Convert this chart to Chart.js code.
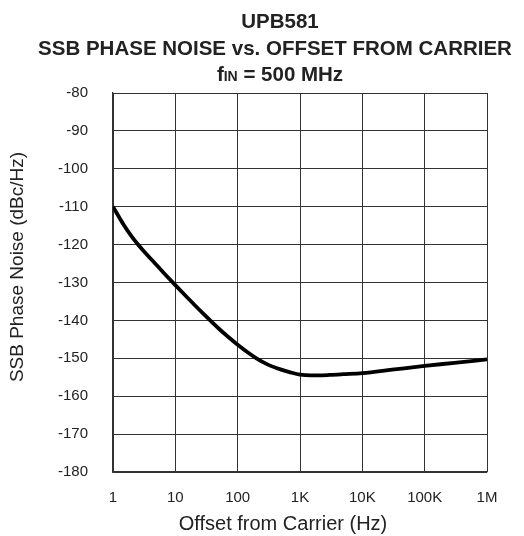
<!DOCTYPE html>
<html>
<head>
<meta charset="utf-8">
<title>UPB581 SSB Phase Noise</title>
<script src="https://cdn.jsdelivr.net/npm/chart.js@4.4.0/dist/chart.umd.min.js"></script>
<style>
  html, body { margin: 0; padding: 0; background: #fff; }
  canvas { display: block; }
</style>
</head>
<body>
<canvas id="noiseChart" width="524" height="536"></canvas>
<script>
// Datos
const offsetHz = [1, 1.5, 2, 2.5, 3, 5, 7, 10, 15, 20, 30, 40, 50, 70, 100, 150, 200, 300, 500, 700,
                  1000, 1500, 2000, 3000, 5000, 10000, 30000, 100000, 300000, 1000000];
const phaseNoise = [-110, -114.9, -117.9, -119.9, -121.4, -125.4, -128.0, -130.7, -133.7, -135.8, -138.7, -140.7, -142.2, -144.3, -146.4, -148.6, -150.0, -151.6, -153.0, -153.7,
                    -154.3, -154.5, -154.5, -154.4, -154.2, -153.9, -153.0, -152.0, -151.2, -150.3];
const xTickValues = [1, 10, 100, 1000, 10000, 100000, 1000000];
const xTickLabels = ['1', '10', '100', '1K', '10K', '100K', '1M'];

const FONT = '"Liberation Sans", Arial, Helvetica, sans-serif';
const TEXT = '#222';

// Títulos dibujados a mano (cada línea tiene su propio centro en el original)
const titlePlugin = {
  id: 'titles',
  afterDraw(chart) {
    const ctx = chart.ctx;
    ctx.save();
    ctx.fillStyle = TEXT;
    ctx.textBaseline = 'alphabetic';
    ctx.textAlign = 'center';
    ctx.font = 'bold 20.5px ' + FONT;
    ctx.fillText('UPB581', 280, 28);
    ctx.fillText('SSB PHASE NOISE vs. OFFSET FROM CARRIER', 275, 55);

    // fIN = 500 MHz con "IN" en pequeño
    const big = 'bold 20.5px ' + FONT;
    const small = 'bold 14px ' + FONT;
    ctx.textAlign = 'left';
    ctx.font = big;
    const wF = ctx.measureText('f').width;
    const wRest = ctx.measureText(' = 500 MHz').width;
    ctx.font = small;
    const wIN = ctx.measureText('IN').width;
    let x = 280 - (wF + wIN + wRest) / 2;
    ctx.font = big;
    ctx.fillText('f', x, 81);
    x += wF;
    ctx.font = small;
    ctx.fillText('IN', x, 81);
    x += wIN;
    ctx.font = big;
    ctx.fillText(' = 500 MHz', x, 81);

    // Títulos de ejes
    ctx.textAlign = 'center';
    ctx.textBaseline = 'middle';
    ctx.font = '20px ' + FONT;
    ctx.fillText('Offset from Carrier (Hz)', 283, 524);
    ctx.translate(18, 267);
    ctx.rotate(-Math.PI / 2);
    ctx.font = '19px ' + FONT;
    ctx.fillText('SSB Phase Noise (dBc/Hz)', 0, 0);
    ctx.restore();
  }
};

const ctx = document.getElementById('noiseChart').getContext('2d');

new Chart(ctx, {
  type: 'line',
  data: {
    datasets: [{
      data: offsetHz.map((f, i) => ({ x: f, y: phaseNoise[i] })),
      borderColor: '#000',
      borderWidth: 3.8,
      pointRadius: 0,
      fill: false,
      cubicInterpolationMode: 'monotone'
    }]
  },
  options: {
    responsive: false,
    animation: false,
    layout: { padding: { top: 93, right: 37, left: 0, bottom: 0 } },
    plugins: {
      legend: { display: false },
      title: { display: false },
      tooltip: { enabled: false }
    },
    scales: {
      x: {
        type: 'logarithmic',
        min: 1,
        max: 1000000,
        afterBuildTicks: scale => {
          scale.ticks = xTickValues.map(v => ({ value: v }));
        },
        afterFit: scale => { scale.height = 64; },
        grid: { color: '#333', lineWidth: 1, drawTicks: false },
        border: { color: '#333', width: 1.3 },
        ticks: {
          autoSkip: false,
          maxRotation: 0,
          padding: 17,
          color: TEXT,
          font: { family: FONT, size: 15 },
          callback: (value, index) => xTickLabels[index]
        }
      },
      y: {
        min: -180,
        max: -80,
        afterFit: scale => { scale.width = 113; },
        grid: { color: '#333', lineWidth: 1, drawTicks: false },
        border: { color: '#333', width: 1.3 },
        ticks: {
          stepSize: 10,
          padding: 25,
          color: TEXT,
          font: { family: FONT, size: 15 }
        }
      }
    }
  },
  plugins: [titlePlugin]
});
</script>
</body>
</html>
